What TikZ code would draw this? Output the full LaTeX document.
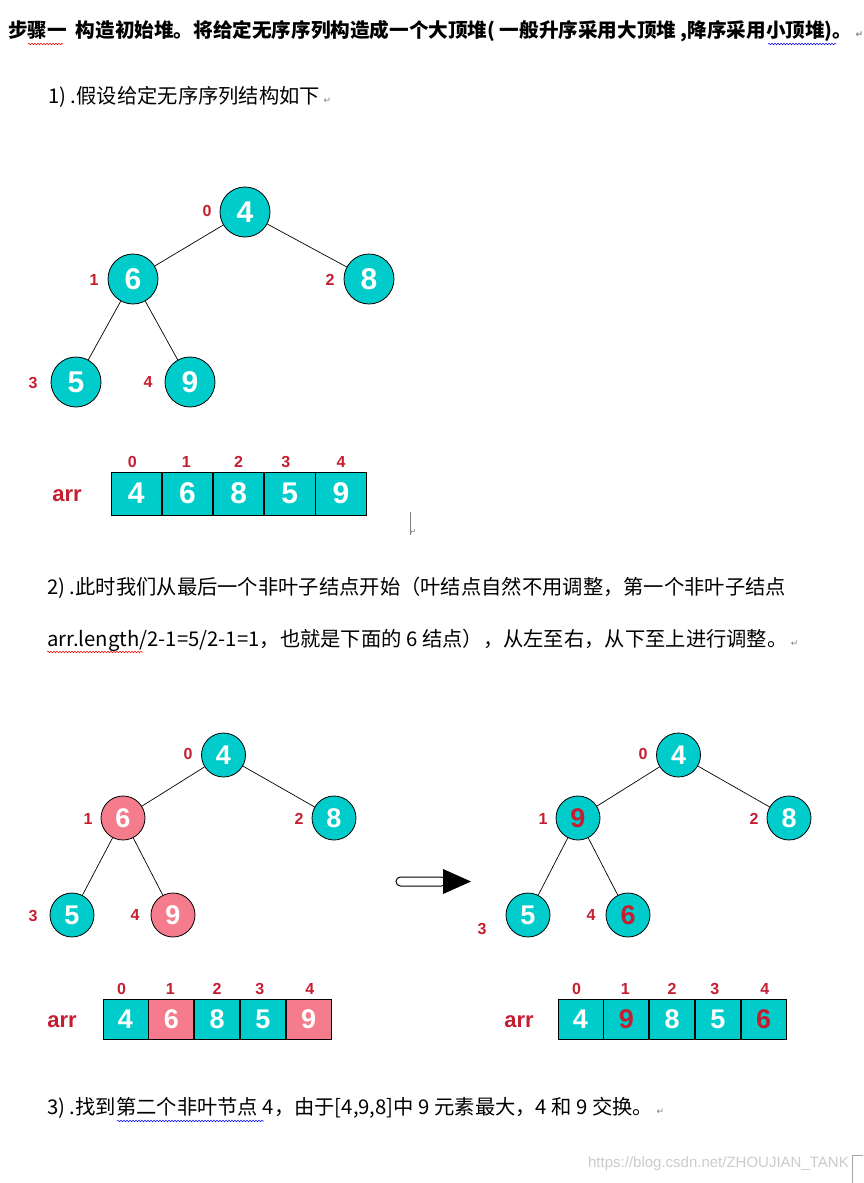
\documentclass[tikz,border=0pt]{standalone}
\usepackage{fontspec}
\setmainfont{Noto Sans CJK SC}
\newfontfamily\numfont{Liberation Sans}
\newfontfamily\symfont{DejaVu Sans}
\usetikzlibrary{decorations.pathmorphing}
\definecolor{heapteal}{RGB}{0,204,204}
\definecolor{heappink}{RGB}{244,124,140}
\definecolor{idxred}{RGB}{196,30,48}
\newcommand{\pmark}{\,{\symfont\color{gray}\fontsize{9}{9}\selectfont ↵}}
\tikzset{
  bignode/.style={circle, draw=black, line width=0.8pt, fill=heapteal, minimum size=50pt, inner sep=0pt,
    text=white, font=\numfont\bfseries\fontsize{30}{30}\selectfont},
  smallnode/.style={bignode, minimum size=44pt, font=\numfont\bfseries\fontsize{27}{27}\selectfont},
  pinkfill/.style={fill=heappink},
  rednum/.style={text=idxred},
  idx/.style={text=idxred, font=\numfont\bfseries\fontsize{16}{16}\selectfont, inner sep=0pt},
  arrlabel/.style={text=idxred, font=\numfont\bfseries\fontsize{22}{22}\selectfont, inner sep=0pt},
  bigcell/.style={rectangle, draw=black, line width=0.8pt, fill=heapteal, minimum width=50.4pt, minimum height=43pt,
    inner sep=0pt, text=white, font=\numfont\bfseries\fontsize{30}{30}\selectfont},
  smallcell/.style={bigcell, minimum width=45pt, minimum height=40pt, font=\numfont\bfseries\fontsize{27}{27}\selectfont},
  edge/.style={line width=0.7pt, black},
  bodytext/.style={anchor=west, inner sep=0pt, font=\fontsize{20.3}{20.3}\selectfont},
  redwave/.style={red, line width=0.5pt, decorate, decoration={snake, amplitude=0.8pt, segment length=3pt}},
  bluewave/.style={blue, line width=0.5pt, decorate, decoration={snake, amplitude=0.8pt, segment length=3pt}}
}
\begin{document}
\begin{tikzpicture}[x=1pt,y=-1pt]
\useasboundingbox (0,0) rectangle (863,1183);
\fill[white] (0,0) rectangle (863,1183);

% title and texts
\node[bodytext, font=\bfseries\fontsize{19.6}{19.6}\selectfont] (title) at (8,31)
  {步骤一\ \ 构造初始堆。将给定无序序列构造成一个大顶堆( 一般升序采用大顶堆 ,降序采用小顶堆)。\pmark};
\draw[redwave] (28,44) -- (63,44);
\draw[bluewave] (768,44) -- (836,44);

\node[bodytext] (t1) at (48,97) {1) .假设给定无序序列结构如下\pmark};

% tree 1
\node[bignode] (a0) at (245,212) {4};
\node[bignode] (a1) at (133,279) {6};
\node[bignode] (a2) at (369,279) {8};
\node[bignode] (a3) at (76,382) {5};
\node[bignode] (a4) at (190,382) {9};
\draw[edge] (a0) -- (a1);
\draw[edge] (a0) -- (a2);
\draw[edge] (a1) -- (a3);
\draw[edge] (a1) -- (a4);
\node[idx] (ai0) at (207,211) {0};
\node[idx] (ai1) at (94,280) {1};
\node[idx] (ai2) at (330,280) {2};
\node[idx] (ai3) at (33,383) {3};
\node[idx] (ai4) at (148,382) {4};

% array 1
\node[arrlabel] (arrA) at (67,496) {arr};
\node[bigcell] (c0) at (136.2,493.5) {4};
\node[bigcell, anchor=west] (c1) at (c0.east) {6};
\node[bigcell, anchor=west] (c2) at (c1.east) {8};
\node[bigcell, anchor=west] (c3) at (c2.east) {5};
\node[bigcell, anchor=west] (c4) at (c3.east) {9};
\node[idx] at ([xshift=-4pt,yshift=32pt]c0.center) {0};
\node[idx] at ([xshift=-1pt,yshift=32pt]c1.center) {1};
\node[idx] at ([yshift=32pt]c2.center) {2};
\node[idx] at ([xshift=-4pt,yshift=32pt]c3.center) {3};
\node[idx] at ([yshift=32pt]c4.center) {4};

% cursor mark
\draw[gray, line width=0.5pt] (410,512) -- (410,535);
\node[inner sep=0pt, font=\symfont\fontsize{8}{8}\selectfont, text=gray] (cur) at (413,532) {↵};

\node[bodytext] (t2) at (47,588) {2) .此时我们从最后一个非叶子结点开始（叶结点自然不用调整，第一个非叶子结点};
\node[bodytext] (t3) at (47,640) {arr.length/2-1=5/2-1=1，也就是下面的 6 结点），从左至右，从下至上进行调整。\pmark};
\draw[redwave] (47,652) -- (143,652);

% tree 2 (left)
\node[smallnode] (b0) at (223.5,755) {4};
\node[smallnode, pinkfill] (b1) at (123,818) {6};
\node[smallnode] (b2) at (334,818) {8};
\node[smallnode] (b3) at (72,915) {5};
\node[smallnode, pinkfill] (b4) at (173,915) {9};
\draw[edge] (b0) -- (b1);
\draw[edge] (b0) -- (b2);
\draw[edge] (b1) -- (b3);
\draw[edge] (b1) -- (b4);
\node[idx] at (188,754) {0};
\node[idx] at (88,819) {1};
\node[idx] at (299,819) {2};
\node[idx] at (33,916) {3};
\node[idx] at (135,915) {4};

% tree 3 (right)
\node[smallnode] (d0) at (678.5,755) {4};
\node[smallnode, rednum] (d1) at (578,818) {9};
\node[smallnode] (d2) at (789,818) {8};
\node[smallnode] (d3) at (528,915) {5};
\node[smallnode, rednum] (d4) at (628,915) {6};
\draw[edge] (d0) -- (d1);
\draw[edge] (d0) -- (d2);
\draw[edge] (d1) -- (d3);
\draw[edge] (d1) -- (d4);
\node[idx] at (643,754) {0};
\node[idx] at (543,819) {1};
\node[idx] at (754,819) {2};
\node[idx] at (482,929) {3};
\node[idx] at (591,915) {4};

% block arrow
\draw[line width=1pt, fill=white, rounded corners=4.5pt] (396,877) rectangle (446,886);
\fill[black] (443,869) -- (471,881.5) -- (443,894) -- cycle;

% array 2 (left)
\node[arrlabel] at (62,1022) {arr};
\node[smallcell] (e0) at (125.5,1019) {4};
\node[smallcell, pinkfill, anchor=west] (e1) at (e0.east) {6};
\node[smallcell, anchor=west] (e2) at (e1.east) {8};
\node[smallcell, anchor=west] (e3) at (e2.east) {5};
\node[smallcell, pinkfill, anchor=west] (e4) at (e3.east) {9};
\node[idx] at ([xshift=-4pt,yshift=30pt]e0.center) {0};
\node[idx] at ([xshift=-1pt,yshift=30pt]e1.center) {1};
\node[idx] at ([yshift=30pt]e2.center) {2};
\node[idx] at ([xshift=-3pt,yshift=30pt]e3.center) {3};
\node[idx] at ([xshift=1pt,yshift=30pt]e4.center) {4};

% array 3 (right)
\node[arrlabel] at (519,1022) {arr};
\node[smallcell] (f0) at (580.5,1019) {4};
\node[smallcell, rednum, anchor=west] (f1) at (f0.east) {9};
\node[smallcell, anchor=west] (f2) at (f1.east) {8};
\node[smallcell, anchor=west] (f3) at (f2.east) {5};
\node[smallcell, rednum, anchor=west] (f4) at (f3.east) {6};
\node[idx] at ([xshift=-4pt,yshift=30pt]f0.center) {0};
\node[idx] at ([xshift=-1pt,yshift=30pt]f1.center) {1};
\node[idx] at ([yshift=30pt]f2.center) {2};
\node[idx] at ([xshift=-3pt,yshift=30pt]f3.center) {3};
\node[idx] at ([xshift=1pt,yshift=30pt]f4.center) {4};

\node[bodytext] (t4) at (47,1108) {3) .找到第二个非叶节点 4，由于[4,9,8]中 9 元素最大，4 和 9 交换。\pmark};
\draw[bluewave] (117,1121) -- (264,1121);

% watermark and corner
\node[anchor=east, inner sep=0pt, text=gray!40, font=\numfont\fontsize{15}{15}\selectfont] (wm) at (849,1164) {https://blog.csdn.net/ZHOUJIAN\_TANK};
\draw[gray!70, line width=0.6pt] (863,1155) -- (852,1155) -- (852,1183);
\end{tikzpicture}
\end{document}
